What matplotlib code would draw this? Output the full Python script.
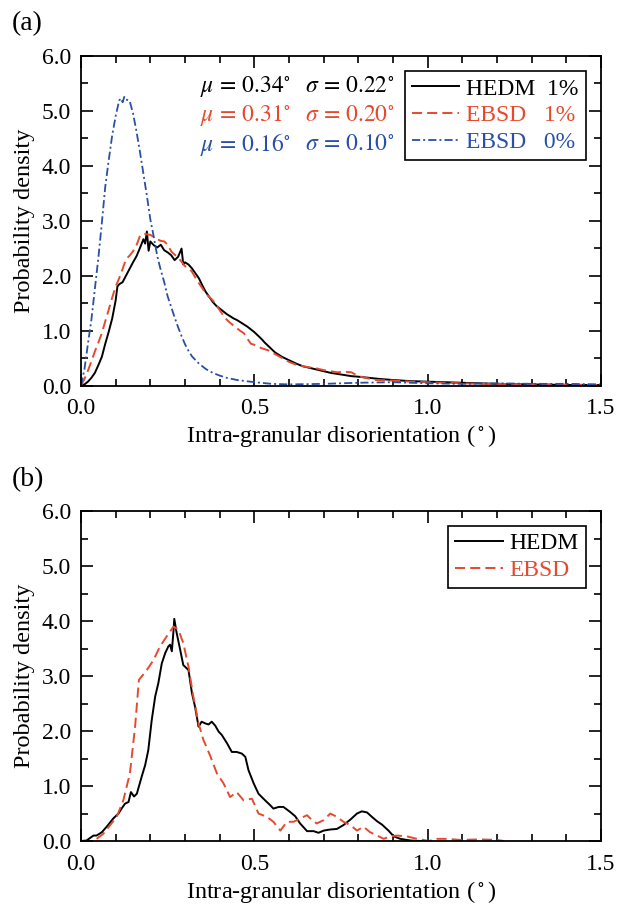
import matplotlib
matplotlib.use("Agg")
import matplotlib.pyplot as plt
from matplotlib.ticker import MultipleLocator

plt.rcParams['font.family'] = ['Liberation Serif', 'DejaVu Serif']
plt.rcParams['mathtext.fontset'] = 'stix'

RED = '#e64a2e'
BLUE = '#2850a8'

# (a) HEDM 1% strain
hedm_a_x = [0.00, 0.01, 0.02, 0.03, 0.04, 0.05, 0.06, 0.07, 0.08, 0.09, 0.10, 0.105,
            0.11, 0.12, 0.13, 0.14, 0.15, 0.16, 0.17, 0.18, 0.185, 0.19, 0.195, 0.20,
            0.21, 0.22, 0.23, 0.24, 0.25, 0.26, 0.27, 0.28, 0.29, 0.295, 0.30, 0.31,
            0.32, 0.33, 0.34, 0.35, 0.36, 0.37, 0.38, 0.39, 0.40, 0.41, 0.42, 0.43,
            0.44, 0.45, 0.46, 0.47, 0.48, 0.49, 0.50, 0.51, 0.52, 0.53, 0.54, 0.55,
            0.56, 0.58, 0.60, 0.62, 0.64, 0.66, 0.68, 0.70, 0.72, 0.74, 0.76, 0.78,
            0.80, 0.83, 0.86, 0.90, 0.95, 1.00, 1.05, 1.10, 1.15, 1.20, 1.30, 1.40, 1.50]
hedm_a_y = [0.00, 0.02, 0.07, 0.14, 0.23, 0.37, 0.52, 0.76, 0.98, 1.22, 1.55, 1.80,
            1.84, 1.88, 2.00, 2.12, 2.24, 2.35, 2.50, 2.66, 2.58, 2.80, 2.45, 2.62,
            2.55, 2.51, 2.56, 2.46, 2.42, 2.37, 2.28, 2.34, 2.49, 2.20, 2.24, 2.20,
            2.13, 2.04, 1.95, 1.82, 1.70, 1.61, 1.52, 1.45, 1.40, 1.35, 1.30, 1.26,
            1.22, 1.19, 1.15, 1.11, 1.07, 1.02, 0.97, 0.91, 0.85, 0.78, 0.72, 0.66,
            0.60, 0.52, 0.46, 0.40, 0.35, 0.32, 0.29, 0.26, 0.23, 0.21, 0.19, 0.17,
            0.16, 0.14, 0.12, 0.10, 0.08, 0.07, 0.06, 0.05, 0.04, 0.03, 0.02, 0.01, 0.01]

# (a) EBSD 1% strain
ebsd1_a_x = [0.00, 0.01, 0.02, 0.03, 0.04, 0.05, 0.06, 0.07, 0.08, 0.09, 0.10, 0.11,
             0.12, 0.13, 0.14, 0.15, 0.16, 0.17, 0.18, 0.19, 0.20, 0.21, 0.22, 0.23,
             0.24, 0.25, 0.26, 0.27, 0.28, 0.29, 0.30, 0.31, 0.32, 0.33, 0.34, 0.35,
             0.36, 0.37, 0.38, 0.39, 0.40, 0.41, 0.42, 0.43, 0.44, 0.45, 0.46, 0.47,
             0.48, 0.49, 0.50, 0.52, 0.54, 0.56, 0.58, 0.60, 0.62, 0.64, 0.66, 0.68,
             0.70, 0.72, 0.74, 0.76, 0.78, 0.80, 0.82, 0.85, 0.90, 0.95, 1.00, 1.05,
             1.10, 1.15, 1.20, 1.30, 1.40, 1.50]
ebsd1_a_y = [0.00, 0.12, 0.27, 0.44, 0.62, 0.78, 0.95, 1.17, 1.38, 1.60, 1.80, 1.95,
             2.12, 2.30, 2.36, 2.44, 2.55, 2.72, 2.76, 2.75, 2.74, 2.70, 2.66, 2.63,
             2.62, 2.56, 2.44, 2.38, 2.33, 2.25, 2.17, 2.13, 2.07, 1.96, 1.86, 1.77,
             1.67, 1.61, 1.55, 1.46, 1.37, 1.28, 1.20, 1.14, 1.09, 1.04, 0.99, 0.95,
             0.85, 0.76, 0.74, 0.68, 0.64, 0.57, 0.50, 0.43, 0.38, 0.35, 0.33, 0.31,
             0.28, 0.26, 0.24, 0.25, 0.24, 0.17, 0.14, 0.10, 0.09, 0.07, 0.06, 0.05,
             0.04, 0.03, 0.03, 0.02, 0.015, 0.01]

# (a) EBSD 0% strain
ebsd0_a_x = [0.00, 0.01, 0.02, 0.03, 0.04, 0.05, 0.06, 0.07, 0.08, 0.09, 0.10, 0.11,
             0.115, 0.12, 0.125, 0.13, 0.14, 0.15, 0.16, 0.17, 0.18, 0.19, 0.20, 0.21,
             0.22, 0.23, 0.24, 0.25, 0.26, 0.27, 0.28, 0.29, 0.30, 0.31, 0.32, 0.34,
             0.36, 0.38, 0.40, 0.42, 0.45, 0.50, 0.55, 0.60, 0.70, 0.80, 0.90, 1.00,
             1.10, 1.20, 1.30, 1.40, 1.50]
ebsd0_a_y = [0.00, 0.30, 0.76, 1.20, 1.76, 2.32, 2.95, 3.62, 4.10, 4.55, 4.90, 5.18,
             5.22, 5.15, 5.25, 5.20, 5.18, 4.95, 4.62, 4.25, 3.85, 3.45, 3.02, 2.70,
             2.35, 2.10, 1.88, 1.62, 1.43, 1.24, 1.06, 0.90, 0.75, 0.63, 0.53, 0.40,
             0.30, 0.23, 0.18, 0.14, 0.10, 0.06, 0.03, 0.02, 0.03, 0.05, 0.06, 0.04,
             0.03, 0.04, 0.03, 0.03, 0.02]

# (b) HEDM
hedm_b_x = [0.000, 0.016, 0.036, 0.045, 0.060, 0.074, 0.093, 0.108, 0.117, 0.127,
            0.137, 0.144, 0.153, 0.161, 0.175, 0.185, 0.194, 0.204, 0.214, 0.223,
            0.233, 0.243, 0.252, 0.257, 0.262, 0.267, 0.269, 0.276, 0.286, 0.295,
            0.310, 0.320, 0.329, 0.339, 0.348, 0.358, 0.368, 0.377, 0.387, 0.397,
            0.406, 0.421, 0.435, 0.449, 0.464, 0.474, 0.483, 0.498, 0.512, 0.531,
            0.546, 0.555, 0.570, 0.584, 0.603, 0.618, 0.632, 0.652, 0.671, 0.685,
            0.700, 0.719, 0.738, 0.757, 0.777, 0.796, 0.810, 0.825, 0.839, 0.854,
            0.868, 0.887, 0.902, 0.921, 0.950, 0.980, 1.000]
hedm_b_y = [0.00, 0.01, 0.10, 0.10, 0.16, 0.26, 0.41, 0.50, 0.59, 0.68,
            0.71, 0.89, 0.81, 0.86, 1.17, 1.38, 1.65, 2.20, 2.63, 2.87,
            3.23, 3.42, 3.54, 3.57, 3.45, 3.84, 4.04, 3.78, 3.48, 3.20,
            3.11, 2.69, 2.44, 2.08, 2.17, 2.14, 2.12, 2.17, 2.10, 1.99,
            1.93, 1.78, 1.62, 1.62, 1.59, 1.53, 1.29, 1.05, 0.86, 0.74,
            0.65, 0.59, 0.62, 0.62, 0.53, 0.45, 0.32, 0.18, 0.18, 0.15,
            0.19, 0.21, 0.22, 0.29, 0.39, 0.50, 0.54, 0.52, 0.44, 0.36,
            0.30, 0.19, 0.085, 0.04, 0.01, 0.00, 0.00]

# (b) EBSD
ebsd_b_x = [0.045, 0.064, 0.084, 0.103, 0.122, 0.141, 0.156, 0.167, 0.190, 0.209,
            0.228, 0.247, 0.267, 0.281, 0.295, 0.310, 0.324, 0.339, 0.353, 0.372,
            0.392, 0.411, 0.430, 0.449, 0.469, 0.493, 0.512, 0.536, 0.555, 0.575,
            0.594, 0.613, 0.632, 0.652, 0.666, 0.680, 0.700, 0.719, 0.738, 0.757,
            0.777, 0.796, 0.815, 0.834, 0.854, 0.873, 0.892, 0.911, 0.940, 0.969,
            0.988, 1.003, 1.027, 1.056, 1.094, 1.150, 1.200, 1.220]
ebsd_b_y = [0.04, 0.13, 0.29, 0.44, 0.74, 1.23, 2.08, 2.93, 3.11, 3.29,
            3.54, 3.72, 3.90, 3.84, 3.60, 3.17, 2.63, 2.14, 1.84, 1.56,
            1.23, 1.05, 0.80, 0.89, 0.74, 0.77, 0.50, 0.44, 0.35, 0.19,
            0.35, 0.35, 0.41, 0.47, 0.38, 0.32, 0.38, 0.50, 0.44, 0.35,
            0.29, 0.19, 0.26, 0.16, 0.10, 0.04, 0.085, 0.10, 0.085, 0.04,
            0.02, 0.00, 0.04, 0.04, 0.02, 0.03, 0.02, 0.00]

stats_a = [("0.34", "0.22", 'black'), ("0.31", "0.20", RED), ("0.16", "0.10", BLUE)]

FS = 17.5
LEG_FS = 17


def style_axes(ax):
    ax.set_xlim(0, 1.5)
    ax.set_ylim(0, 6)
    ax.xaxis.set_major_locator(MultipleLocator(0.5))
    ax.xaxis.set_minor_locator(MultipleLocator(0.1))
    ax.yaxis.set_major_locator(MultipleLocator(1.0))
    ax.yaxis.set_minor_locator(MultipleLocator(0.5))
    ax.xaxis.set_major_formatter(lambda v, p: f"{v:.1f}")
    ax.yaxis.set_major_formatter(lambda v, p: f"{v:.1f}")
    ax.tick_params(which='both', direction='in', top=True, right=True,
                   labelsize=17, width=1.2)
    ax.tick_params(which='major', length=8.5)
    ax.tick_params(axis='x', which='major', pad=9)
    ax.tick_params(axis='y', which='major', pad=7)
    ax.tick_params(which='minor', length=5)
    for s in ax.spines.values():
        s.set_linewidth(1.3)
    ax.set_xlabel(r"Intra-granular disorientation ($\,^{\circ}\,$)", fontsize=FS, labelpad=3)
    ax.set_ylabel("Probability density", fontsize=FS, labelpad=5)


def make_legend(ax, anchor, colors):
    leg = ax.legend(loc='upper right', bbox_to_anchor=anchor, borderaxespad=0,
                    fontsize=LEG_FS, fancybox=False, edgecolor='black', framealpha=1,
                    handlelength=2.0, handletextpad=0.3, borderpad=0.3,
                    labelspacing=0.22)
    leg.get_frame().set_linewidth(1.2)
    for t, c in zip(leg.get_texts(), colors):
        t.set_color(c)
    return leg


fig = plt.figure(figsize=(6.17, 9.06), dpi=100)
ax1 = fig.add_axes([0.1313, 0.5745, 0.8428, 0.3642])
ax2 = fig.add_axes([0.1313, 0.0717, 0.8428, 0.3642])

# panel (a)
ax1.plot(hedm_a_x, hedm_a_y, color='black', lw=1.4, label="HEDM  1%")
ax1.plot(ebsd1_a_x, ebsd1_a_y, color=RED, lw=1.4, dashes=(5.2, 2.6), label="EBSD   1%")
ax1.plot(ebsd0_a_x, ebsd0_a_y, color=BLUE, lw=1.3, dashes=(4.5, 1.7, 1.1, 1.7),
         label="EBSD   0%")
style_axes(ax1)
make_legend(ax1, (0.971, 0.953), ['black', RED, BLUE])

for i, (mu, sig, c) in enumerate(stats_a):
    yy = 0.905 - i * 0.088
    ax1.text(0.229, yy, rf"$\mu\,=\,{mu}^{{\circ}}$", color=c, fontsize=17,
             transform=ax1.transAxes, va='center', ha='left')
    ax1.text(0.431, yy, rf"$\sigma\,=\,{sig}^{{\circ}}$", color=c, fontsize=17,
             transform=ax1.transAxes, va='center', ha='left')

# panel (b)
ax2.plot(hedm_b_x, hedm_b_y, color='black', lw=1.4, label="HEDM")
ax2.plot(ebsd_b_x, ebsd_b_y, color=RED, lw=1.4, dashes=(5.2, 2.6), label="EBSD")
style_axes(ax2)
make_legend(ax2, (0.971, 0.956), ['black', RED])

fig.text(12 / 617, 1 - 24 / 906, "(a)", fontsize=20, va='center', ha='left')
fig.text(12 / 617, 1 - 480 / 906, "(b)", fontsize=20, va='center', ha='left')

fig.savefig("out.png", dpi=100)
